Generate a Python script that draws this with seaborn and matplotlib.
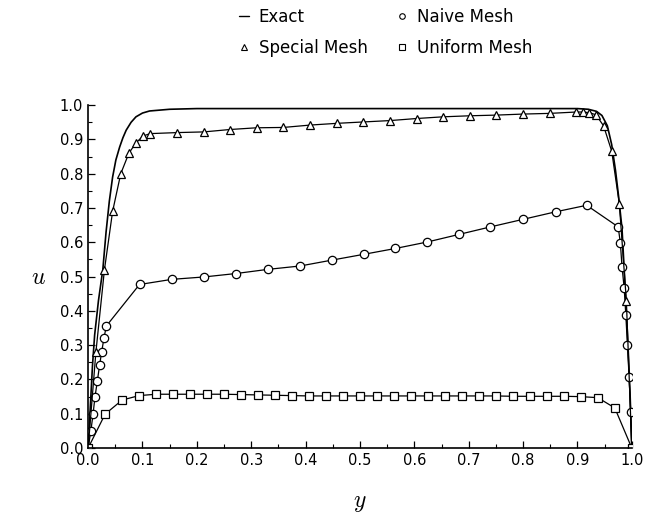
import numpy as np
import pandas as pd
import matplotlib
matplotlib.use("Agg")
import matplotlib.pyplot as plt
from matplotlib.lines import Line2D
from matplotlib.ticker import MultipleLocator
import seaborn as sns


# values

exact_y = [0.0, 0.004, 0.008, 0.012, 0.019, 0.027, 0.033, 0.039, 0.045, 0.051,
           0.058, 0.064, 0.070, 0.079, 0.088, 0.100, 0.113, 0.150, 0.200, 0.500,
           0.900, 0.920, 0.935, 0.945, 0.955, 0.963, 0.970, 0.976, 0.982, 0.988,
           0.993, 0.997, 1.0]
exact_u = [0.0, 0.12, 0.24, 0.33, 0.43, 0.52, 0.63, 0.72, 0.79, 0.84,
           0.878, 0.905, 0.927, 0.950, 0.966, 0.977, 0.983, 0.988, 0.990, 0.990,
           0.990, 0.988, 0.982, 0.970, 0.940, 0.885, 0.810, 0.730, 0.640, 0.460,
           0.300, 0.150, 0.0]

naive_y = [0.0, 0.005, 0.009, 0.0125, 0.017, 0.021, 0.025, 0.029, 0.0335,
           0.0945, 0.154, 0.213, 0.272, 0.330, 0.390, 0.448, 0.507, 0.565, 0.624,
           0.682, 0.740, 0.800, 0.860, 0.917, 0.975, 0.979, 0.982, 0.986, 0.989,
           0.992, 0.995, 0.998, 1.0]
naive_u = [0.0, 0.050, 0.098, 0.148, 0.196, 0.241, 0.281, 0.320, 0.356,
           0.477, 0.492, 0.499, 0.509, 0.521, 0.531, 0.548, 0.565, 0.582, 0.601,
           0.623, 0.645, 0.667, 0.689, 0.708, 0.645, 0.597, 0.529, 0.466, 0.388,
           0.300, 0.208, 0.106, 0.0]

special_y = [0.0, 0.0143, 0.030, 0.045, 0.060, 0.075, 0.088, 0.101, 0.114,
             0.164, 0.213, 0.261, 0.310, 0.359, 0.409, 0.458, 0.506, 0.555,
             0.604, 0.653, 0.702, 0.751, 0.800, 0.849, 0.898, 0.910, 0.922,
             0.934, 0.948, 0.963, 0.977, 0.990, 1.0]
special_u = [0.0, 0.28, 0.52, 0.69, 0.80, 0.86, 0.89, 0.91, 0.917,
             0.920, 0.922, 0.929, 0.934, 0.935, 0.942, 0.947, 0.951, 0.955,
             0.961, 0.966, 0.969, 0.971, 0.974, 0.976, 0.980, 0.980, 0.978,
             0.972, 0.940, 0.866, 0.713, 0.430, 0.0]

uniform_y = [k / 32 for k in range(33)]
uniform_u = [0.0, 0.099, 0.140, 0.153, 0.157, 0.157, 0.157, 0.157, 0.157,
             0.156, 0.155, 0.154, 0.153, 0.152, 0.152, 0.152, 0.152, 0.152,
             0.152, 0.152, 0.152, 0.152, 0.152, 0.152, 0.152, 0.151, 0.151,
             0.151, 0.151, 0.150, 0.147, 0.117, 0.0]


sns.set_theme(style="ticks")
plt.rcParams["font.family"] = ["DejaVu Sans"]
plt.rcParams["mathtext.fontset"] = "cm"
plt.rcParams["text.color"] = "black"

fig = plt.figure(figsize=(6.48, 5.18), dpi=100)
ax = fig.add_axes([0.136, 0.135, 0.839, 0.662])

mk = dict(markersize=6, markerfacecolor="white", markeredgecolor="black",
          markeredgewidth=0.9)

sns.lineplot(x=exact_y, y=exact_u, ax=ax, color="black", lw=1.2,
             sort=False, estimator=None)
sns.lineplot(x=naive_y, y=naive_u, ax=ax, color="black", lw=0.9,
             marker="o", sort=False, estimator=None, **mk)
sns.lineplot(x=special_y, y=special_u, ax=ax, color="black", lw=0.9,
             marker="^", sort=False, estimator=None, **mk)
sns.lineplot(x=uniform_y, y=uniform_u, ax=ax, color="black", lw=0.9,
             marker="s", sort=False, estimator=None, **mk)

ax.set_xlim(0, 1.0)
ax.set_ylim(0, 1.0)
ax.xaxis.set_major_locator(MultipleLocator(0.1))
ax.yaxis.set_major_locator(MultipleLocator(0.1))
ax.xaxis.set_minor_locator(MultipleLocator(0.05))
ax.yaxis.set_minor_locator(MultipleLocator(0.05))
ax.xaxis.set_major_formatter(plt.FormatStrFormatter("%.1f"))
ax.yaxis.set_major_formatter(plt.FormatStrFormatter("%.1f"))
ax.tick_params(which="both", direction="in", color="black", labelsize=10.5,
               labelcolor="black")
ax.tick_params(which="major", length=5, width=0.9)
ax.tick_params(which="minor", length=3, width=0.8)
sns.despine(ax=ax)
for s in ["left", "bottom"]:
    ax.spines[s].set_color("black")
    ax.spines[s].set_linewidth(1.2)

ax.set_xlabel("$y$", fontsize=17, labelpad=16, color="black")
ax.set_ylabel("$u$", fontsize=17, rotation=0, labelpad=15, va="center",
              color="black")

# legend at the top
handles = [
    Line2D([], [], color="black", lw=1.0),
    Line2D([], [], ls="none", marker="^", markersize=4, mfc="white", mec="black", mew=0.8),
    Line2D([], [], ls="none", marker="o", markersize=4, mfc="white", mec="black", mew=0.8),
    Line2D([], [], ls="none", marker="s", markersize=4, mfc="white", mec="black", mew=0.8),
]
labels = ["Exact", "Special Mesh", "Naive Mesh", "Uniform Mesh"]
fig.legend(handles, labels, ncol=2, frameon=False, fontsize=12,
           handlelength=0.6, handletextpad=0.6, columnspacing=1.8,
           labelspacing=0.8, loc="upper left", bbox_to_anchor=(0.345, 1.014),
           labelcolor="black")

fig.savefig("out.png", dpi=100)
